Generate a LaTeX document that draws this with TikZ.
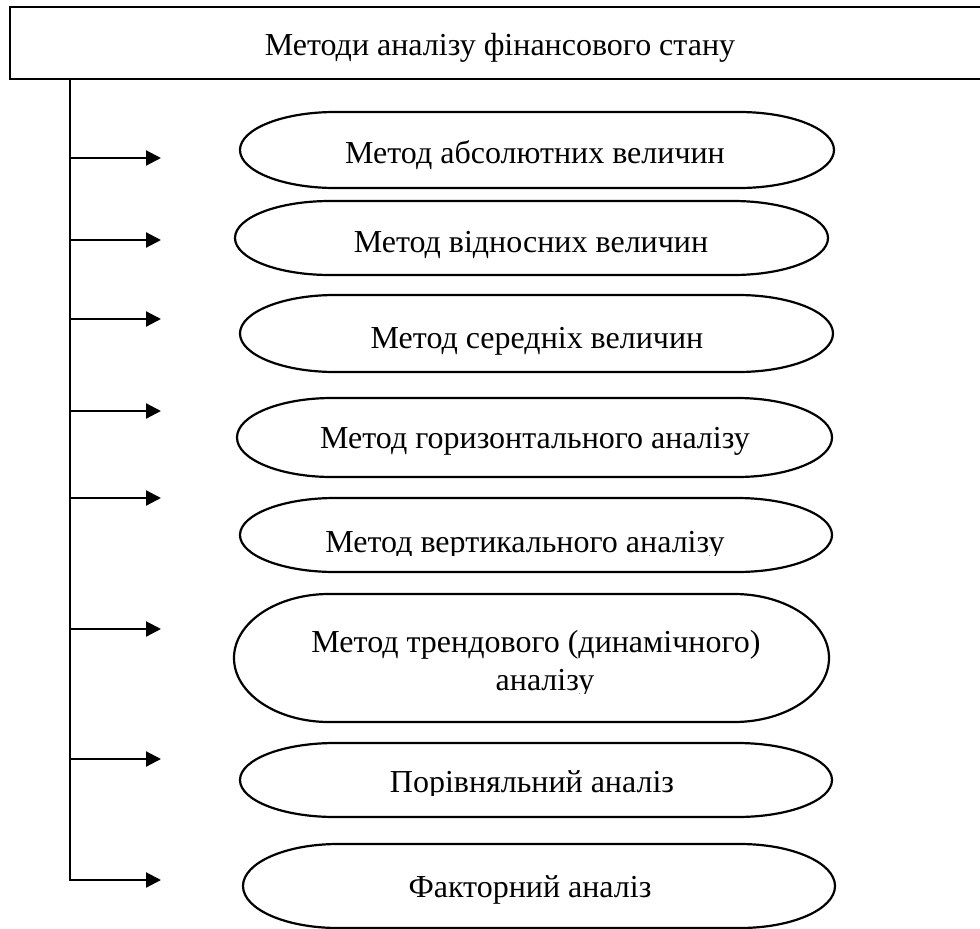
\documentclass[tikz,border=0pt]{standalone}
\usepackage{fontspec}
\setmainfont{Liberation Serif}
\usetikzlibrary{arrows.meta}

% one unit = 1pt, y grows downwards
\tikzset{
  x=1pt, y=-1pt,
  stroke/.style={line width=2.2pt, draw=black},
  headbox/.style={stroke, rectangle, minimum width=980pt, minimum height=72pt,
    inner sep=0pt, text height=28pt, text depth=4pt,
    font=\fontsize{32}{38}\selectfont},
  lbl/.style={anchor=base, inner sep=0pt, font=\fontsize{32}{38}\selectfont},
  branch/.style={stroke, -{Triangle[length=15pt,width=15pt]}},
}

% capsule outline: left, right, top, bottom
\newcommand\capsule[4]{%
  \draw[stroke] ({#1+95},#3) -- ({#2-95},#3)
    arc[start angle=-90, end angle=90, x radius=95, y radius={(#4-#3)/2}]
    -- ({#1+95},#4)
    arc[start angle=90, end angle=270, x radius=95, y radius={(#4-#3)/2}]
    -- cycle;}

\begin{document}
\begin{tikzpicture}
\useasboundingbox (0,0) rectangle (980,929);

% heading box (runs off the right edge)
\node[headbox] (title) at (500,43) {Методи аналізу фінансового стану};

% method capsules
\capsule{240}{834}{112}{188}
\capsule{235}{828}{201}{275}
\capsule{240}{833}{295}{372}
\capsule{237}{832}{398}{477}
\capsule{240}{832}{498}{572}
\capsule{234}{829}{594}{722}
\capsule{240}{832}{743}{817}
\capsule{243}{835}{844}{928}

\node[lbl] (m1) at (535,163) {Метод абсолютних величин};
\node[lbl] (m2) at (531,252) {Метод відносних величин};
\node[lbl] (m3) at (537,348) {Метод середніх величин};
\node[lbl] (m4) at (535,448) {Метод горизонтального аналізу};
\begin{scope}
  \clip (250,500) rectangle (820,555);
  \node[lbl] (m5) at (525,552) {Метод вертикального аналізу};
\end{scope}
\node[lbl] (m6a) at (536,652) {Метод трендового (динамічного)};
\begin{scope}
  \clip (250,660) rectangle (820,693);
  \node[lbl] (m6b) at (545,690) {аналізу};
\end{scope}
\begin{scope}
  \clip (250,745) rectangle (820,795);
  \node[lbl] (m7) at (532,792) {Порівняльний аналіз};
\end{scope}
\node[lbl] (m8) at (530,897) {Факторний аналіз};

% trunk and branches
\coordinate (t0) at (70,79);
\foreach \i/\y in {1/158,2/240,3/319,4/411,5/498,6/629,7/759,8/880}{
  \coordinate (t\i) at (70,\y);
  \coordinate (h\i) at (161,\y);
}
\draw[stroke] (t0) -- (t8);
\foreach \i in {1,...,7}{ \draw[branch] (t\i) -- (h\i); }
\draw[branch] (t7) -- (t8) -- (h8);
\end{tikzpicture}
\end{document}
